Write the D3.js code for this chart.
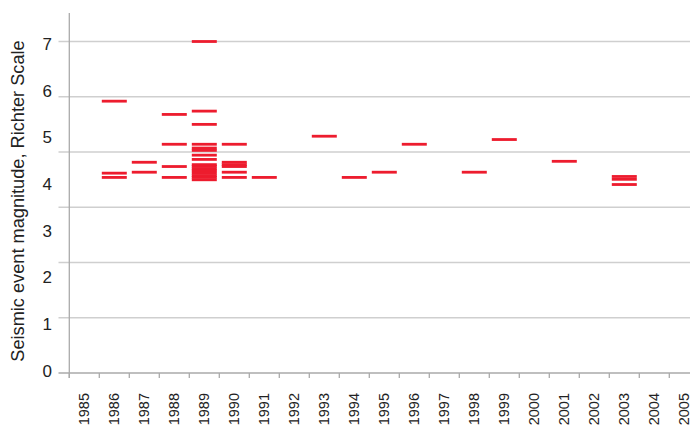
<!DOCTYPE html>
<html>
<head>
<meta charset="utf-8">
<script src="https://cdn.jsdelivr.net/npm/d3@7"></script>
<style>
  body { margin: 0; background: #fff; }
  text { font-family: "Liberation Sans", Arial, Helvetica, sans-serif; fill: #222; }
</style>
</head>
<body>
<div id="chart"></div>
<script>

// years on the x axis
const years = d3.range(1985, 2006).map(String)

// each event: year and magnitude
const eventYears = [
  "1986", "1986", "1986",
  "1987", "1987",
  "1988", "1988", "1988", "1988",
  "1989", "1989", "1989", "1989", "1989", "1989", "1989", "1989",
  "1989", "1989", "1989", "1989", "1989", "1989", "1989", "1989",
  "1990", "1990", "1990", "1990", "1990", "1990",
  "1991", "1993", "1994", "1995", "1996", "1998", "1999", "2001",
  "2003", "2003", "2003"
]
const magnitudes = [
  5.74, 4.22, 4.13,
  4.45, 4.24,
  5.46, 4.83, 4.36, 4.13,
  7.0, 5.53, 5.25, 4.83, 4.75, 4.70, 4.60, 4.51,
  4.40, 4.36, 4.31, 4.27, 4.22, 4.17, 4.13, 4.08,
  4.83, 4.45, 4.40, 4.36, 4.24, 4.13,
  4.13, 5.0, 4.13, 4.24, 4.83, 4.24, 4.93, 4.47,
  4.15, 4.09, 3.98
]

const yLabels = [0, 1, 2, 3, 4, 5, 6, 7]

const width = 690
const height = 427

const svg = d3.select('#chart').append('svg').attr("width", width).attr("height", height)

const x = d3.scaleBand().domain(years).range([69.3, 69.3 + 30 * years.length])
const y = d3.scaleLinear().domain([0, 7]).range([373, 41.5])
// the labels sit on their own spacing, not on the gridlines
const yLab = d3.scaleLinear().domain([0, 7]).range([370.5, 44])

// gridlines: 6 equal steps over the axis
const gridVals = d3.range(7).map(i => i * 7 / 6)

svg.append('g')
  .selectAll('line')
  .data(gridVals.filter(d => d > 0))
  .enter()
  .append('line')
  .attr("x1", 58.5)
  .attr("x2", width)
  .attr("y1", d => y(d))
  .attr("y2", d => y(d))
  .attr("stroke", "#cfcfcf")
  .attr("stroke-width", 1.3)

// x axis
const axisBottom = d3.axisBottom(x).tickSize(5).tickFormat("")
const gx = svg.append('g')
  .attr("transform", `translate(0,${y(0)})`)
  .call(axisBottom)
gx.select(".domain").remove()
gx.selectAll(".tick line").attr("stroke", "#aaa").attr("stroke-width", 1.3)
  .attr("transform", `translate(${-x.bandwidth() / 2},0)`)

svg.append('line')
  .attr("x1", 58.5).attr("x2", width)
  .attr("y1", y(0)).attr("y2", y(0))
  .attr("stroke", "#aaa").attr("stroke-width", 1.3)

svg.append('line')
  .attr("x1", x.range()[0]).attr("x2", x.range()[0])
  .attr("y1", 13).attr("y2", 378)
  .attr("stroke", "#aaa").attr("stroke-width", 1.3)

// year labels
svg.append('g')
  .selectAll('text')
  .data(years)
  .enter()
  .append('text')
  .attr("transform", d => `translate(${x(d) + x.bandwidth() / 2 + 5},393) rotate(-90)`)
  .attr("text-anchor", "end")
  .style("font-size", "14.5px")
  .text(d => d)

// y labels
svg.append('g')
  .selectAll('text')
  .data(yLabels)
  .enter()
  .append('text')
  .attr("x", 52)
  .attr("y", d => yLab(d))
  .attr("dy", "0.36em")
  .attr("text-anchor", "end")
  .style("font-size", "17px")
  .text(d => d)

svg.append('text')
  .attr("transform", "translate(24,201) rotate(-90)")
  .attr("text-anchor", "middle")
  .style("font-size", "18.2px")
  .text("Seismic event magnitude, Richter Scale")

// the event dashes
const dashW = 25
svg.append('g')
  .selectAll('rect')
  .data(magnitudes)
  .enter()
  .append('rect')
  .attr("x", (d, i) => x(eventYears[i]) + (x.bandwidth() - dashW) / 2)
  .attr("y", d => y(d) - 1.4)
  .attr("width", dashW)
  .attr("height", 2.8)
  .attr("fill", "#ed1c2e")

</script>
</body>
</html>
